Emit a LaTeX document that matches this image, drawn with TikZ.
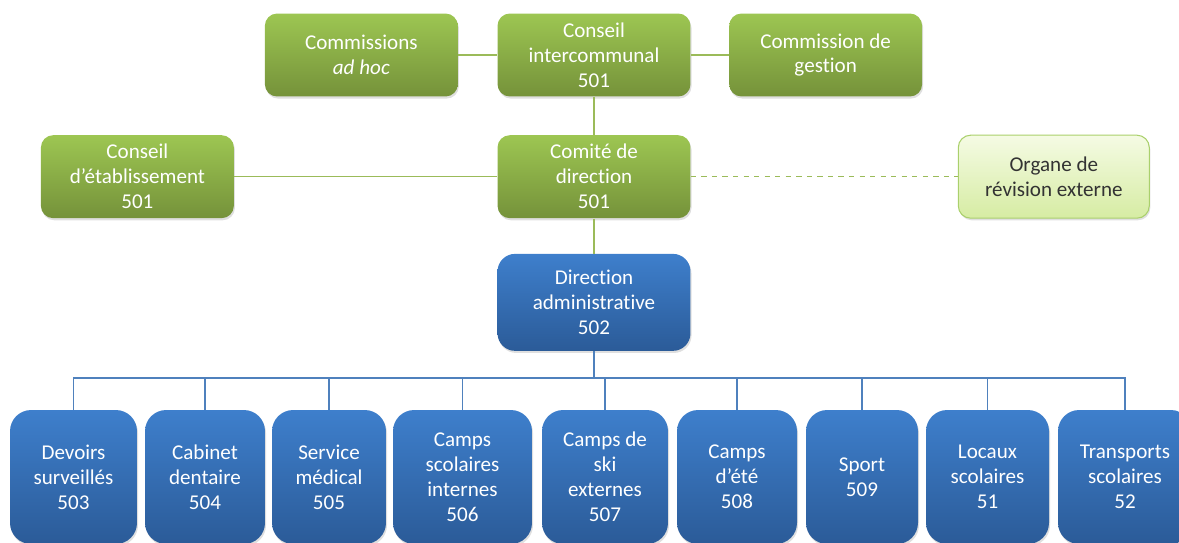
\documentclass[tikz,border=0pt]{standalone}
\usepackage{fontspec}
\setmainfont[Ligatures=NoCommon]{Carlito}
\usetikzlibrary{positioning}
\usetikzlibrary{shadows}

\definecolor{greentop}{RGB}{157,198,82}
\definecolor{greenbot}{RGB}{117,146,58}
\definecolor{bluetop}{RGB}{62,127,204}
\definecolor{bluebot}{RGB}{43,91,152}
\definecolor{lighttop}{RGB}{245,251,228}
\definecolor{lightbot}{RGB}{214,236,163}
\definecolor{lightedge}{RGB}{170,208,108}
\definecolor{greenline}{RGB}{155,187,89}
\definecolor{blueline}{RGB}{79,129,189}

\tikzset{
  orgbox/.style={rounded corners=7pt, align=center, text=white,
    font=\fontsize{12}{14.2}\selectfont, inner sep=2pt,
    drop shadow={opacity=0.25, shadow xshift=0.6pt, shadow yshift=-1.2pt}},
  greenbox/.style={orgbox, top color=greentop, bottom color=greenbot,
    minimum width=3.86cm, minimum height=1.66cm},
  lightbox/.style={orgbox, text=black!80, draw=lightedge, line width=0.6pt,
    top color=lighttop, bottom color=lightbot,
    minimum width=3.82cm, minimum height=1.66cm},
  bluebox/.style={orgbox, top color=bluetop, bottom color=bluebot},
  unitbox/.style={bluebox, rounded corners=12pt, minimum height=2.68cm},
  gline/.style={greenline, line width=0.8pt},
  bline/.style={blueline, line width=0.8pt},
}

\begin{document}
\begin{tikzpicture}[x=0.02cm, y=-0.02cm]
    \useasboundingbox (0,0) rectangle (1179,542);
    \clip (0,0) rectangle (1179,542);

    % upper levels
    \node [greenbox] (inter) at (594,55) {Conseil\\intercommunal\\501};
    \node [greenbox, left=0.78cm of inter] (adhoc) {Commissions\\\textit{ad hoc}};
    \node [greenbox, right=0.76cm of inter] (gestion) {Commission de\\gestion};
    \node [greenbox, below=0.76cm of inter] (comite) {Comité de\\direction\\501};
    \node [greenbox, left=5.26cm of comite] (etab) {Conseil\\d’établissement\\501};
    \node [lightbox, right=5.34cm of comite] (revision) {Organe de\\révision externe};
    \node [bluebox, below=0.7cm of comite, minimum width=3.86cm,
      minimum height=1.94cm, rounded corners=10pt] (admin) {Direction\\administrative\\502};

    \draw [gline] (adhoc) -- (inter);
    \draw [gline] (inter) -- (gestion);
    \draw [gline] (inter) -- (comite);
    \draw [gline] (etab) -- (comite);
    \draw [gline, dashed] (comite) -- (revision);
    \draw [gline] (comite) -- (admin);

    % services
    \node [unitbox, minimum width=2.54cm] (devoirs) at (73.5,477) {Devoirs\\surveillés\\503};
    \node [unitbox, minimum width=2.40cm] (dentaire) at (205,477) {Cabinet\\dentaire\\504};
    \node [unitbox, minimum width=2.28cm] (medical) at (329,477) {Service\\médical\\505};
    \node [unitbox, minimum width=2.78cm] (internes) at (462.5,477) {Camps\\scolaires\\internes\\506};
    \node [unitbox, minimum width=2.52cm] (ski) at (605,477) {Camps de\\ski\\externes\\507};
    \node [unitbox, minimum width=2.40cm] (ete) at (737,477) {Camps\\d’été\\508};
    \node [unitbox, minimum width=2.24cm] (sport) at (862,477) {Sport\\509};
    \node [unitbox, minimum width=2.46cm] (locaux) at (987.5,477) {Locaux\\scolaires\\51};
    \node [unitbox, minimum width=2.68cm] (transports) at (1125,477) {Transports\\scolaires\\52};

    \coordinate (bus) at (0,378);
    \foreach \unit in {devoirs,dentaire,medical,internes,ski,ete,sport,locaux,transports}
      \draw [bline] (admin.south) -- (admin.south |- bus) -| (\unit.north);
\end{tikzpicture}
\end{document}
